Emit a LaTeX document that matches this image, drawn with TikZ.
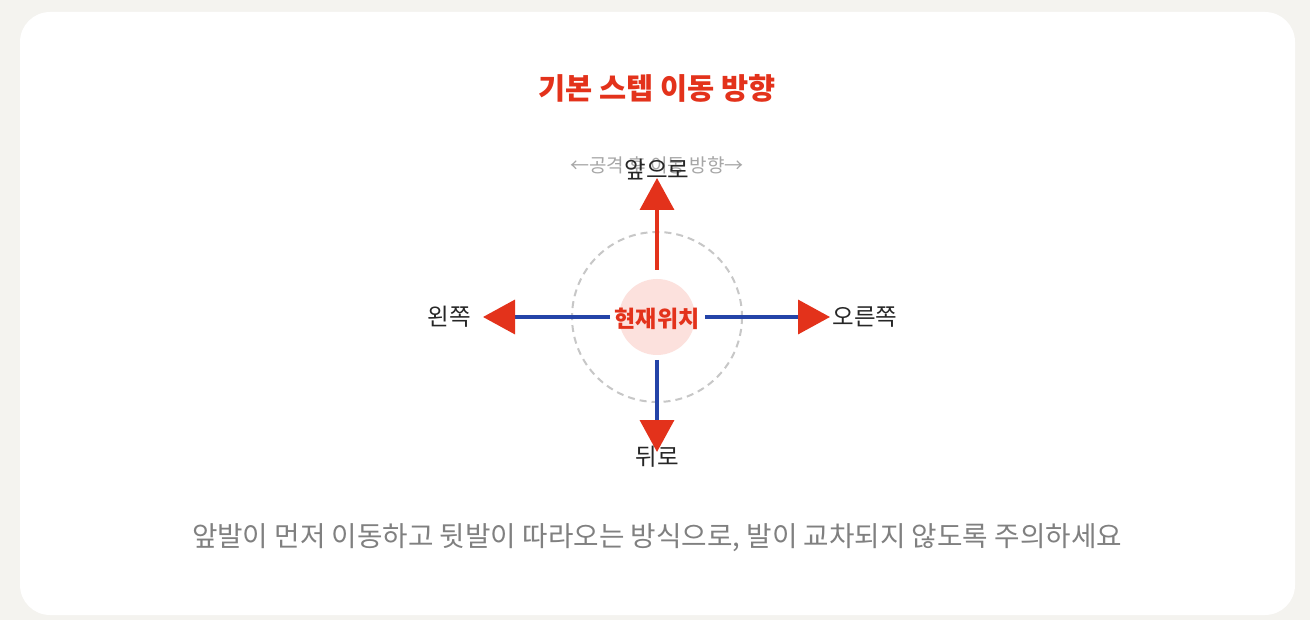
\documentclass[tikz,border=0pt]{standalone}
\usepackage{fontspec}
\setmainfont{Noto Sans CJK KR}
\usetikzlibrary{arrows.meta}
\definecolor{accent}{HTML}{E3321B}
\definecolor{movblue}{HTML}{2444A8}
\definecolor{softpink}{HTML}{FCE1DD}
\definecolor{pagebg}{HTML}{F4F3EF}
\tikzset{
  dir/.style={font=\fontsize{23.5}{27}\selectfont, text=black!85},
  head/.style={-{Triangle[length=32pt,width=34pt,color=accent]}, line width=3.5pt}
}
\begin{document}
\begin{tikzpicture}[x=1pt,y=-1pt]
  \useasboundingbox (0,0) rectangle (1310,620);
  % Background and card
  \fill[pagebg] (0,0) rectangle (1310,620);
  \fill[white, rounded corners=30pt] (20,12) rectangle (1295,615);

  % Title
  \node[font=\fontsize{29.5}{34}\selectfont\bfseries, text=accent] (title) at (657,88) {기본 스텝 이동 방향};

  % Centre
  \draw[black!22, dashed, line width=2pt, dash pattern=on 7pt off 5pt] (657,317) circle (85);
  \fill[softpink] (657,317) circle (38);
  \node[font=\fontsize{23}{27}\selectfont\bfseries, text=accent] (here) at (657,319) {현재위치};

  % Tips
  \coordinate (up_tip) at (657,178);
  \coordinate (left_tip) at (483,317);
  \coordinate (right_tip) at (830,317);
  \coordinate (down_tip) at (657,452);

  % Arrows
  \draw[head, accent] (657,270) -- (up_tip);
  \draw[head, movblue] (610,317) -- (left_tip);
  \draw[head, movblue] (705,317) -- (right_tip);
  \draw[head, movblue] (657,360) -- (down_tip);

  % Labels
  \node[font=\fontsize{19}{22}\selectfont, text=black!35] (hint) at (657,165) {←공격 후 이동 방향→};
  \node[dir] (front) at (657,170) {앞으로};
  \node[dir] (left) at (449,317) {왼쪽};
  \node[dir] (right) at (865,317) {오른쪽};
  \node[dir] (back) at (657,457) {뒤로};

  % Note
  \node[font=\fontsize{27.7}{32}\selectfont, text=black!50] (note) at (657,538) {앞발이 먼저 이동하고 뒷발이 따라오는 방식으로, 발이 교차되지 않도록 주의하세요};
\end{tikzpicture}
\end{document}
